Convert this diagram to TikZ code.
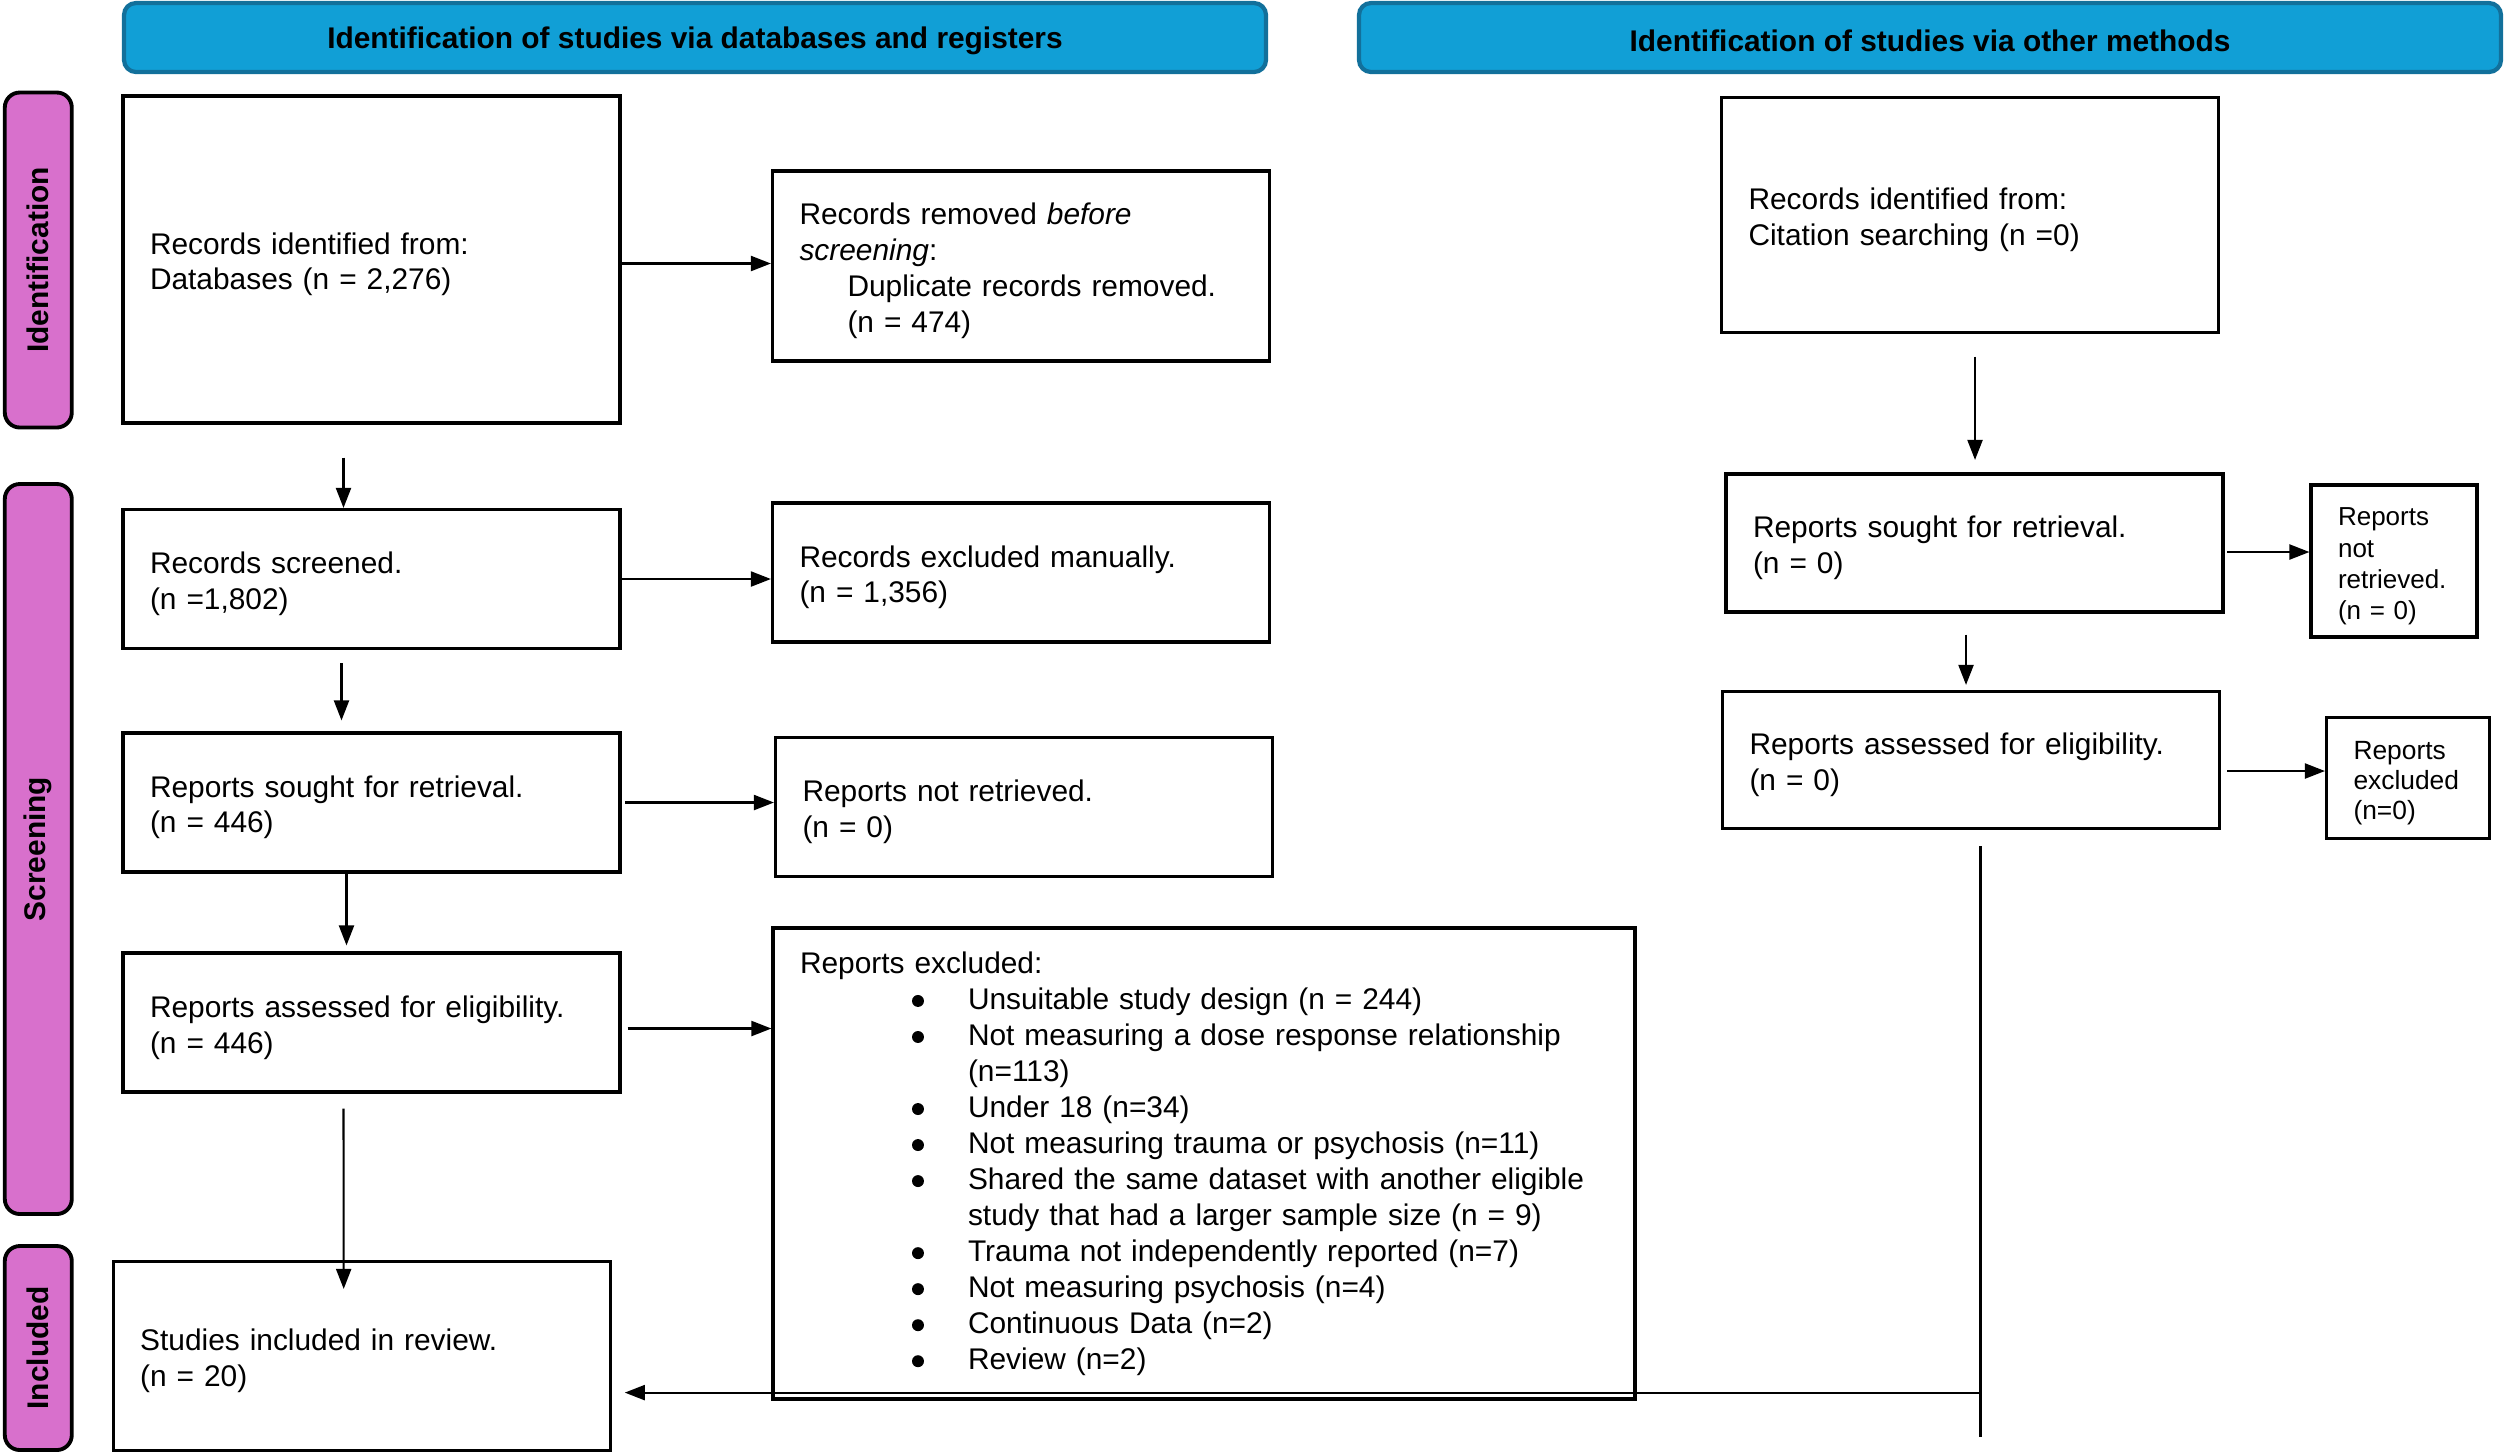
\documentclass[tikz,border=0pt]{standalone}
\usepackage{fontspec}
\setmainfont{Liberation Sans}
\usetikzlibrary{arrows.meta,calc}
\definecolor{hdrfill}{RGB}{17,159,214}
\definecolor{hdrline}{RGB}{18,112,155}
\definecolor{sidefill}{RGB}{216,112,204}
\newcommand\bdot{\tikz[baseline=0pt]\fill[black] (0,2.3pt) circle (1.7pt);}
\newcommand\bitem{\hspace*{1.12cm}\makebox[0.56cm][l]{\bdot}}
\newcommand\bcont{\hspace*{1.68cm}}
\tikzset{
  box/.style={draw, line width=0.9pt, inner xsep=0.27cm, inner ysep=0pt, align=left,
    font=\fontsize{8.5}{10.2}\selectfont},
  strut/.style={execute at begin node={\rule{0pt}{#1}}},
  wbox/.style={box, strut=8.9pt, text width=4.43cm, minimum height=#1},
  smallbox/.style={box, strut=8.2pt, font=\fontsize{7.4}{8.9}\selectfont},
  hdr/.style={draw=hdrline, fill=hdrfill, line width=1.2pt, rounded corners=0.12cm,
    minimum width=11.42cm, minimum height=0.69cm, inner sep=0pt, strut=8.0pt,
    font=\fontsize{8.5}{10}\selectfont\bfseries},
  side/.style={draw=black, fill=sidefill, line width=1.1pt, rounded corners=0.15cm,
    minimum width=0.67cm, inner sep=0pt},
  sidetext/.style={rotate=90, font=\fontsize{8.5}{10}\selectfont\bfseries},
  arr/.style={line width=0.6pt, -{Triangle[length=0.2cm,width=0.15cm]}},
  plain/.style={line width=0.6pt}
}
\begin{document}
\begin{tikzpicture}
\useasboundingbox (0,0) rectangle (25.04,-14.54);
% headers
\node[hdr] (h1) at (6.95,-0.375) {Identification of studies via databases and registers};
\node[hdr] (h2) at (19.30,-0.375) {Identification of studies via other methods};
% side bars
\node[side, minimum height=3.35cm] (s1) at (0.383,-2.60) {};
\node[sidetext] (s1t) at (s1.center) {Identification};
\node[side, minimum height=7.30cm] (s2) at (0.383,-8.49) {};
\node[sidetext] (s2t) at (s2.center) {Screening};
\node[side, minimum height=2.04cm] (s3) at (0.383,-13.48) {};
\node[sidetext] (s3t) at (s3.center) {Included};
% left column
\node[wbox=3.27cm] (b1) at (3.715,-2.595) {Records identified from:\\Databases (n = 2,276)};
\node[wbox=1.90cm] (rem) at (10.21,-2.66) {Records removed \emph{before}\\\emph{screening}:\\\hspace*{0.48cm}Duplicate records removed.\\\hspace*{0.48cm}(n = 474)};
\node[wbox=1.39cm] (scr) at (3.715,-5.79) {Records screened.\\(n =1,802)};
\node[wbox=1.39cm] (exm) at (10.21,-5.725) {Records excluded manually.\\(n = 1,356)};
\node[wbox=1.39cm] (sgt) at (3.715,-8.025) {Reports sought for retrieval.\\(n = 446)};
\node[wbox=1.39cm] (nrt) at (10.24,-8.07) {Reports not retrieved.\\(n = 0)};
\node[wbox=1.39cm] (ass) at (3.715,-10.225) {Reports assessed for eligibility.\\(n = 446)};
\node[box, text width=8.08cm, minimum height=4.71cm, font=\fontsize{8.5}{10.25}\selectfont] (rex) at (12.04,-11.634) {Reports excluded:\\
\bitem Unsuitable study design (n = 244)\\
\bitem Not measuring a dose response relationship\\
\bcont (n=113)\\
\bitem Under 18 (n=34)\\
\bitem Not measuring trauma or psychosis (n=11)\\
\bitem Shared the same dataset with another eligible\\
\bcont study that had a larger sample size (n = 9)\\
\bitem Trauma not independently reported (n=7)\\
\bitem Not measuring psychosis (n=4)\\
\bitem Continuous Data (n=2)\\
\bitem Review (n=2)};
\node[wbox=1.89cm] (inc) at (3.617,-13.56) {Studies included in review.\\(n = 20)};
% right column
\node[wbox=2.35cm] (cit) at (19.70,-2.15) {Records identified from:\\Citation searching (n =0)};
\node[wbox=1.38cm] (sgr) at (19.745,-5.43) {Reports sought for retrieval.\\(n = 0)};
\node[smallbox, text width=1.12cm, minimum height=1.52cm] (nrr) at (23.94,-5.61) {Reports\\not\\retrieved.\\(n = 0)};
\node[smallbox, text width=1.09cm, minimum height=1.21cm, font=\fontsize{7.5}{8.6}\selectfont] (exr) at (24.08,-7.78) {Reports\\excluded\\(n=0)};
\node[wbox=1.37cm] (asr) at (19.71,-7.60) {Reports assessed for eligibility.\\(n = 0)};
% arrows left
\draw[arr] ([yshift=-0.04cm]b1.east) -- ([yshift=-0.04cm]b1.east -| rem.west);
\draw[arr, shorten <=0.33cm] ([xshift=-0.28cm]b1.south) -- ([xshift=-0.28cm]scr.north);
\draw[arr] (scr.east) -- (scr.east -| exm.west);
\draw[arr, shorten <=0.13cm, shorten >=0.11cm] ([xshift=-0.30cm]scr.south) -- ([xshift=-0.30cm]sgt.north);
\draw[arr, shorten <=0.035cm] (sgt.east) -- (sgt.east -| nrt.west);
\draw[arr, shorten >=0.06cm] ([xshift=-0.25cm]sgt.south) -- ([xshift=-0.25cm]ass.north);
\draw[arr, shorten <=0.06cm] ([yshift=-0.06cm]ass.east) -- ([yshift=-0.06cm]ass.east -| rex.west);
\draw[arr, shorten <=0.15cm] ([xshift=-0.28cm]ass.south) -- ([xshift=-0.18cm,yshift=-0.29cm]inc.north);
% arrows right
\draw[arr, shorten <=0.225cm, shorten >=0.125cm] ([xshift=0.05cm]cit.south) -- ([xshift=0.05cm]cit.south |- sgr.north);
\draw[arr, shorten <=0.025cm] ([yshift=-0.09cm]sgr.east) -- ([yshift=-0.09cm]sgr.east -| nrr.west);
\draw[arr, shorten <=0.21cm, shorten >=0.05cm] ([xshift=-0.085cm]sgr.south) -- ([xshift=-0.085cm]sgr.south |- asr.north);
\draw[arr, shorten <=0.06cm] ([yshift=-0.11cm]asr.east) -- ([yshift=-0.11cm]asr.east -| exr.west);
% return line
\coordinate (vt) at ([xshift=0.095cm,yshift=-0.16cm]asr.south);
\coordinate (vb) at ($(vt)+(0,-5.91)$);
\coordinate (vj) at ($(vt)+(0,-5.465)$);
\draw[plain] (vt) -- (vb);
\draw[arr, shorten >=0.13cm] (vj) -- (vj -| inc.east);
\end{tikzpicture}
\end{document}
